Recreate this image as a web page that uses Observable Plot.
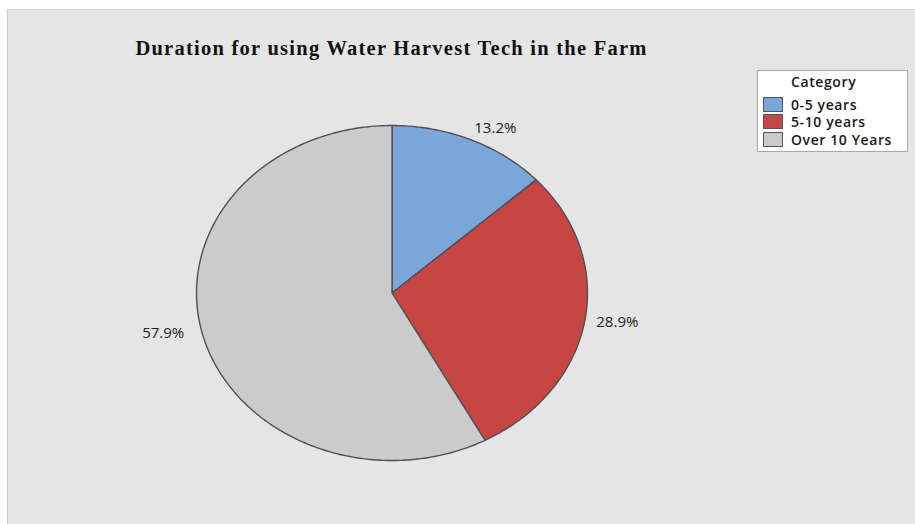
<!DOCTYPE html>
<html>
<head>
<meta charset="utf-8">
<script src="https://cdn.jsdelivr.net/npm/d3@7"></script>
<script src="https://cdn.jsdelivr.net/npm/@observablehq/plot@0.6"></script>
<style>
  html, body { margin: 0; padding: 0; background: #ffffff; }
  #panel {
    position: absolute; left: 7px; top: 9px; width: 908px; height: 515px;
    background: #e5e5e5; border-top: 1px solid #cdcdcd; border-left: 1px solid #cdcdcd;
    overflow: hidden;
  }
  #title {
    position: absolute; left: 0; width: 767px; top: 27px; text-align: center;
    font-family: "Liberation Serif", "Times New Roman", serif; font-weight: bold;
    font-size: 20.5px; letter-spacing: 1.25px; color: #111; white-space: nowrap;
  }
  #legend {
    position: absolute; left: 749px; top: 60px; width: 151px; height: 82px;
    background: #ffffff; border: 1px solid #a8a8a8; box-sizing: border-box;
    font-family: "Open Sans", "Noto Sans", sans-serif; font-weight: 600; font-size: 14px;
    letter-spacing: 0.6px; color: #1a1a1a;
  }
  #legend .head { position: absolute; left: 33px; top: 1px; }
  #legend .row { position: absolute; left: 5px; height: 16px; display: flex; align-items: center; }
  #legend .sw { width: 18px; height: 13px; border: 1px solid #555; margin-right: 8px; }
  #chart { position: absolute; left: 0; top: 0; }
</style>
</head>
<body>
<div id="panel">
  <div id="chart"></div>
  <div id="title">Duration for using Water Harvest Tech in the Farm</div>
  <div id="legend"><div class="head">Category</div></div>
</div>
<script>
// Slices, clockwise from twelve o'clock
const categories = ["0-5 years", "5-10 years", "Over 10 Years"];
const percents = [13.2, 28.9, 57.9];
const colors = ["#7ba6da", "#c84545", "#cbcbcb"];

const W = 908, H = 515;
const cx = 383.5, cy = 282.5, rx = 195.5, ry = 167.5;

// Build each wedge as a closed outline on the unit circle
const total = d3.sum(percents);
const wedges = [];
const labels = [];
let start = 0;
percents.forEach((p, i) => {
  const a0 = start / total * 2 * Math.PI;
  const a1 = (start + p) / total * 2 * Math.PI;
  const steps = Math.max(2, Math.ceil((a1 - a0) / (Math.PI / 180)));
  wedges.push({cat: categories[i], x: 0, y: 0});
  for (let s = 0; s <= steps; s++) {
    const a = a0 + (a1 - a0) * s / steps;
    wedges.push({cat: categories[i], x: Math.sin(a), y: Math.cos(a)});
  }
  wedges.push({cat: categories[i], x: 0, y: 0});
  const am = (a0 + a1) / 2;
  const k = 1.07;
  labels.push({
    text: `${p.toFixed(1)}%`,
    x: Math.sin(am) * k,
    y: Math.cos(am) * k,
    anchor: Math.sin(am) >= 0 ? "start" : "end"
  });
  start += p;
});

const labelFont = {fontSize: 15, fill: "#222", fontFamily: "Open Sans, Noto Sans, sans-serif"};

const chart = Plot.plot({
  width: W,
  height: H,
  margin: 0,
  style: {background: "transparent", overflow: "visible"},
  x: {domain: [-1, 1], range: [cx - rx, cx + rx], axis: null},
  y: {domain: [-1, 1], range: [cy + ry, cy - ry], axis: null},
  color: {domain: categories, range: colors},
  marks: [
    Plot.line(wedges, {
      x: "x", y: "y", z: "cat", fill: "cat", sort: null,
      stroke: "#505050", strokeWidth: 1.4, strokeLinejoin: "round", curve: "linear"
    }),
    Plot.text(labels.filter(d => d.anchor === "start"), {
      x: "x", y: "y", text: "text", textAnchor: "start", dx: -2, dy: -1, ...labelFont
    }),
    Plot.text(labels.filter(d => d.anchor === "end"), {
      x: "x", y: "y", text: "text", textAnchor: "end", dx: -5, dy: -4, ...labelFont
    })
  ]
});
document.getElementById("chart").appendChild(chart);

// Legend rows
const legend = document.getElementById("legend");
categories.forEach((c, i) => {
  const row = document.createElement("div");
  row.className = "row";
  row.style.top = (25 + i * 17.7) + "px";
  const sw = document.createElement("div");
  sw.className = "sw";
  sw.style.background = colors[i];
  const t = document.createElement("span");
  t.textContent = c;
  row.appendChild(sw);
  row.appendChild(t);
  legend.appendChild(row);
});
</script>
</body>
</html>
